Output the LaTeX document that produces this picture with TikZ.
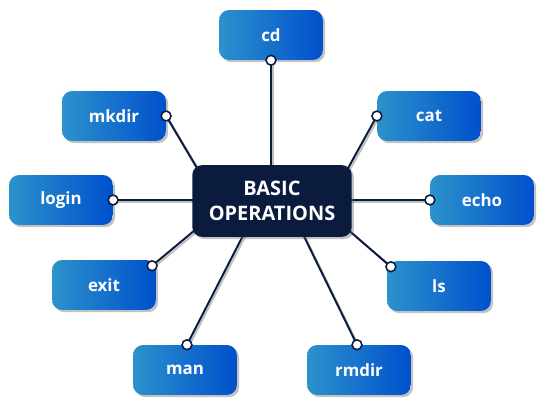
\documentclass[tikz,border=0pt]{standalone}
\usepackage{fontspec}
\setmainfont{Open Sans}
\usepackage{tikz}
\usetikzlibrary{calc, backgrounds, shadows}
\definecolor{opnavy}{RGB}{10,27,62}
\definecolor{oplight}{RGB}{44,146,204}
\definecolor{opblue}{RGB}{0,80,204}

\begin{document}
\begin{tikzpicture}[x=0.025cm, y=-0.025cm,
    cmdbox/.style={rectangle, rounded corners=7pt, minimum width=73.7pt, minimum height=35.5pt,
      left color=oplight, right color=opblue, text=white,
      font=\bfseries\fontsize{12}{14}\selectfont,
      drop shadow={shadow xshift=1.6pt, shadow yshift=-1.6pt, opacity=0.4, fill=black!60}},
    hubbox/.style={rectangle, rounded corners=7pt, minimum width=113.4pt, minimum height=51pt,
      fill=opnavy, text=white, align=center,
      font=\bfseries\fontsize{14.2}{17.5}\selectfont,
      drop shadow={shadow xshift=1.6pt, shadow yshift=-1.6pt, opacity=0.4, fill=black!60}},
    link/.style={draw=opnavy, line width=1.4pt,
      preaction={draw=black!25, line width=1.4pt, transform canvas={shift={(1.2pt,-1.2pt)}}}},
    pin/.style={circle, draw=opnavy, fill=white, line width=1.1pt, inner sep=0pt, minimum size=7pt}]
  \useasboundingbox (0,0) rectangle (549,405);
  % hub
  \node[hubbox] (hub) at (272,201) {BASIC\\OPERATIONS};
  % commands
  \node[cmdbox] (cd)    at (271,35)  {cd};
  \node[cmdbox] (mkdir) at (114,116) {mkdir};
  \node[cmdbox] (cat)   at (429,116) {cat};
  \node[cmdbox] (login) at (61,200)  {login};
  \node[cmdbox] (echo)  at (482,200) {echo};
  \node[cmdbox] (exit)  at (104,285) {exit};
  \node[cmdbox] (ls)    at (439,286) {ls};
  \node[cmdbox] (man)   at (185,370) {man};
  \node[cmdbox] (rmdir) at (359,370) {rmdir};
  % pins on the boxes
  \coordinate (p-cd)    at (cd.south);
  \coordinate (p-mkdir) at (mkdir.east);
  \coordinate (p-cat)   at (cat.west);
  \coordinate (p-login) at (login.east);
  \coordinate (p-echo)  at (echo.west);
  \coordinate (p-exit)  at ($(exit.north east)+(-4,6)$);
  \coordinate (p-ls)    at ($(ls.north west)+(4,6)$);
  \coordinate (p-man)   at ($(man.north)+(2,0)$);
  \coordinate (p-rmdir) at ($(rmdir.north)+(-2,0)$);
  % hidden ends behind the hub
  \coordinate (h-cd)    at (271,190);
  \coordinate (h-mkdir) at (210,190);
  \coordinate (h-cat)   at (336,190);
  \coordinate (h-login) at (200,200);
  \coordinate (h-echo)  at (340,200);
  \coordinate (h-exit)  at (213,215);
  \coordinate (h-ls)    at (331,215);
  \coordinate (h-man)   at (251,220);
  \coordinate (h-rmdir) at (296,220);
  \begin{scope}[on background layer]
    \foreach \c in {cd, mkdir, cat, login, echo, exit, ls, man, rmdir}
      \draw[link] (h-\c) -- (p-\c);
  \end{scope}
  \foreach \c in {cd, mkdir, cat, login, echo, exit, ls, man, rmdir}
    \node[pin] (dot-\c) at (p-\c) {};
\end{tikzpicture}
\end{document}
